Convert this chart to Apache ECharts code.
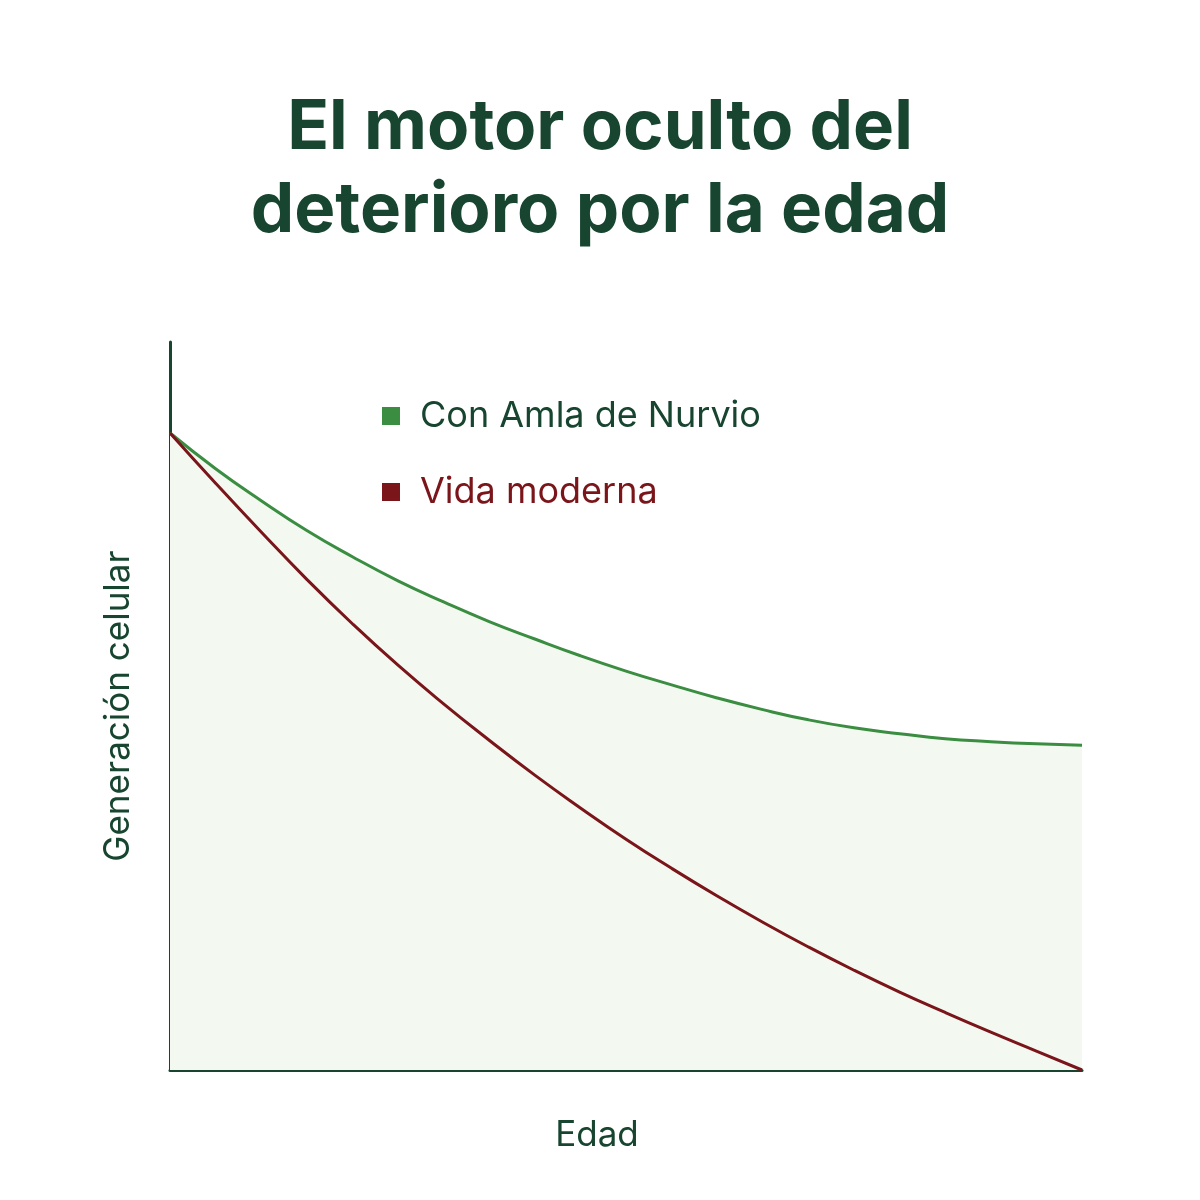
<!DOCTYPE html>
<html>
<head>
<meta charset="utf-8">
<script src="https://cdn.jsdelivr.net/npm/echarts@6/dist/echarts.min.js"></script>
<style>
  html, body { margin: 0; padding: 0; background: #ffffff; }
  #chart { width: 1200px; height: 1200px; }
</style>
</head>
<body>
<div id="chart"></div>
<script>
const titleText = 'El motor oculto del\ndeterioro por la edad';
const xAxisName = 'Edad';
const yAxisName = 'Generación celular';
const ageSteps = ['0', '0.5', '1', '1.5', '2', '2.5', '3', '3.5', '4', '4.5', '5',
                  '5.5', '6', '6.5', '7', '7.5', '8', '8.5', '9', '9.5', '10'];
const seriesNames = ['Con Amla de Nurvio', 'Vida moderna'];
const amlaValues = [87.5, 82.6, 78.2, 74.1, 70.5, 67.2, 64.3, 61.6, 59.2, 56.9, 54.8,
                    52.9, 51.1, 49.5, 48.1, 47.0, 46.2, 45.5, 45.1, 44.8, 44.6];
const modernValues = [87.5, 80.6, 73.9, 67.4, 61.3, 55.6, 50.3, 45.3, 40.5, 36.0, 31.7,
                      27.7, 23.9, 20.3, 16.9, 13.7, 10.7, 7.9, 5.2, 2.6, 0];

const darkGreen = '#17452f';
const lineGreen = '#3a8d41';
const lineRed = '#7a151a';

const chart = echarts.init(document.getElementById('chart'), null, { renderer: 'canvas' });
chart.setOption({
  backgroundColor: '#ffffff',
  animation: false,
  title: {
    text: titleText,
    left: 'center',
    top: 82,
    textStyle: {
      fontFamily: 'Inter',
      fontWeight: 700,
      fontSize: 69,
      lineHeight: 83,
      color: darkGreen
    }
  },
  legend: {
    orient: 'vertical',
    left: 382,
    top: 396,
    padding: 0,
    icon: 'rect',
    itemWidth: 18,
    itemHeight: 18,
    itemGap: 36,
    textStyle: {
      fontFamily: 'Inter',
      fontSize: 36,
      lineHeight: 40,
      padding: [0, 0, 0, 15]
    },
    data: [
      { name: seriesNames[0], textStyle: { color: darkGreen } },
      { name: seriesNames[1], textStyle: { color: lineRed } }
    ]
  },
  grid: { left: 170, right: 118, top: 342, bottom: 130, containLabel: false },
  xAxis: {
    type: 'category',
    data: ageSteps,
    boundaryGap: false,
    name: xAxisName,
    nameLocation: 'middle',
    nameGap: 48,
    nameTextStyle: { fontFamily: 'Inter', fontSize: 35, color: darkGreen, padding: [0, 58, 0, 0] },
    axisLine: { lineStyle: { color: darkGreen, width: 3 } },
    axisTick: { show: false },
    axisLabel: { show: false },
    splitLine: { show: false }
  },
  yAxis: {
    type: 'value',
    min: 0,
    max: 100,
    name: yAxisName,
    nameLocation: 'middle',
    nameGap: 34,
    nameTextStyle: { fontFamily: 'Inter', fontSize: 35, color: darkGreen },
    axisLine: { show: true, lineStyle: { color: darkGreen, width: 3 } },
    axisTick: { show: false },
    axisLabel: { show: false },
    splitLine: { show: false }
  },
  series: [
    {
      name: seriesNames[0],
      type: 'line',
      data: amlaValues,
      smooth: 0.5,
      showSymbol: false,
      symbol: 'none',
      itemStyle: { color: lineGreen },
      lineStyle: { color: lineGreen, width: 3 },
      areaStyle: { color: '#f3f9f1', opacity: 1, origin: 'start' },
      z: 2
    },
    {
      name: seriesNames[1],
      type: 'line',
      data: modernValues,
      smooth: 0.5,
      showSymbol: false,
      symbol: 'none',
      itemStyle: { color: lineRed },
      lineStyle: { color: lineRed, width: 3 },
      z: 3
    }
  ]
});
</script>
</body>
</html>
